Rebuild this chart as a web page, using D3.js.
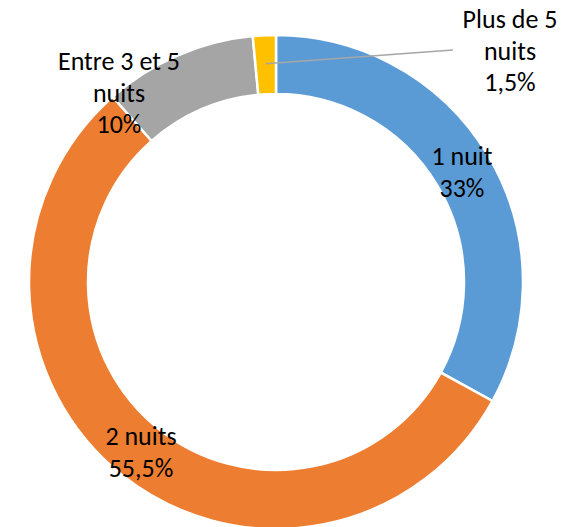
<!DOCTYPE html>
<html>
<head>
<meta charset="utf-8">
<script src="https://cdn.jsdelivr.net/npm/d3@7"></script>
<style>
  html, body { margin: 0; padding: 0; background: #fff; }
  text { font-family: Carlito, Calibri, Lato, 'Open Sans', sans-serif; font-size: 26px; fill: #000; }
</style>
</head>
<body>
<div id="chart"></div>
<script>
const categories = ['1 nuit', '2 nuits', 'Entre 3 et 5 nuits', 'Plus de 5 nuits']
const values = [33, 55.5, 10, 1.5]
const valueLabels = ['33%', '55,5%', '10%', '1,5%']
const labelLines = [['1 nuit', '33%'], ['2 nuits', '55,5%'], ['Entre 3 et 5', 'nuits', '10%'], ['Plus de 5', 'nuits', '1,5%']]
const colors = ['#5b9bd5', '#ed7d31', '#a5a5a5', '#ffc000']

const width = 578
const height = 527
const cx = 276
const cy = 282
const outerR = 247
const innerR = 188

// label anchor (centre x, first baseline y) for each slice
const labelPos = [[462, 165], [141, 445], [119, 70], [510, 28]]

const svg = d3.select('#chart')
  .append('svg')
  .attr('width', width)
  .attr('height', height)

const g = svg.append('g')
  .attr('transform', `translate(${cx}, ${cy})`)

const pie = d3.pie().sort(null).value(d => d)
const arcs = pie(values)
const arc = d3.arc().innerRadius(innerR).outerRadius(outerR)

g.selectAll('path')
  .data(arcs)
  .enter()
  .append('path')
  .attr('d', arc)
  .attr('fill', (d, i) => colors[i])
  .attr('stroke', '#fff')
  .attr('stroke-width', 2.5)

// leader line for the small slice
const small = arcs[3]
const mid = (small.startAngle + small.endAngle) / 2
const r = (innerR + outerR) / 2 + 1
svg.append('line')
  .attr('x1', cx + r * Math.sin(mid))
  .attr('y1', cy - r * Math.cos(mid))
  .attr('x2', 453)
  .attr('y2', 50)
  .attr('stroke', '#a6a6a6')
  .attr('stroke-width', 1.5)

labelLines.forEach((lines, i) => {
  const t = svg.append('text')
    .attr('text-anchor', 'middle')
  lines.forEach((line, j) => {
    t.append('tspan')
      .attr('x', labelPos[i][0])
      .attr('y', labelPos[i][1] + j * 31.5)
      .text(line)
  })
})
</script>
</body>
</html>
